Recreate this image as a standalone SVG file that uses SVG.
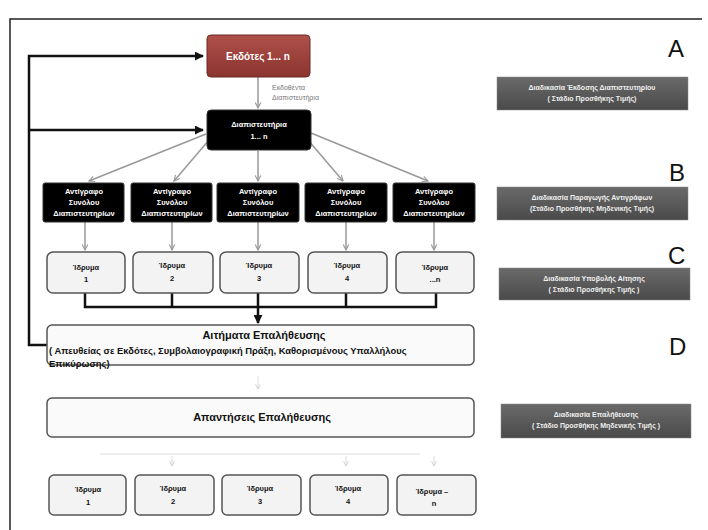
<svg xmlns="http://www.w3.org/2000/svg" width="708" height="530" viewBox="0 0 708 530">
<defs>
<linearGradient id="gRed" x1="0" y1="0" x2="0" y2="1"><stop offset="0" stop-color="#b0504a"/><stop offset="1" stop-color="#8a3430"/></linearGradient>
<linearGradient id="gBan" x1="0" y1="0" x2="0" y2="1"><stop offset="0" stop-color="#6a6a6a"/><stop offset="1" stop-color="#4a4a4a"/></linearGradient>
<marker id="ag" viewBox="0 0 10 10" refX="9" refY="5" markerWidth="7" markerHeight="7" orient="auto" markerUnits="userSpaceOnUse"><path d="M1,1 L9,5 L1,9" fill="none" stroke="#999" stroke-width="1.6"/></marker>
<marker id="ak" viewBox="0 0 10 10" refX="9" refY="5" markerWidth="9" markerHeight="9" orient="auto" markerUnits="userSpaceOnUse"><path d="M0,0 L10,5 L0,10 z" fill="#111"/></marker>
<marker id="af" viewBox="0 0 10 10" refX="9" refY="5" markerWidth="6" markerHeight="6" orient="auto" markerUnits="userSpaceOnUse"><path d="M1,1 L9,5 L1,9" fill="none" stroke="#ccc" stroke-width="1.4"/></marker>
</defs>
<style>
text{font-family:"Liberation Sans","DejaVu Sans",sans-serif;}
.w{fill:#fff;font-size:7.5px;text-anchor:middle;font-weight:bold;}
.wb{fill:#fff;font-size:10px;font-weight:bold;text-anchor:middle;}
.blk{fill:#000;stroke:#333;stroke-width:1;}
.room{fill:#f3f3f3;stroke:#555;stroke-width:1.5;}
.rt{fill:#111;font-size:7.5px;text-anchor:middle;font-weight:bold;}
.ban{fill:url(#gBan);stroke:#888;stroke-width:0.5;}
.bt{fill:#f0f0f0;font-size:7px;text-anchor:middle;font-weight:bold;}
.let{fill:#111;font-size:24px;}
.g{stroke:#999;stroke-width:1.5;fill:none;marker-end:url(#ag);}
.k{stroke:#111;stroke-width:2.5;fill:none;}
.f{stroke:#ddd;stroke-width:1;fill:none;}
</style>
<rect width="708" height="530" fill="#fff"/>
<path d="M10,530 L10,19 L702,19" fill="none" stroke="#222" stroke-width="1.5"/>

<g id="connectors">
<path class="g" d="M258,77 L258,108"/>
<path class="g" d="M206,134 L89,181"/>
<path class="g" d="M209,140 L174,181"/>
<path class="g" d="M258,151 L258,181"/>
<path class="g" d="M308,140 L343,181"/>
<path class="g" d="M311,133 L428,181"/>
<path class="g" d="M85,222 L85,250"/>
<path class="g" d="M172,222 L172,250"/>
<path class="g" d="M258,222 L258,250"/>
<path class="g" d="M346,222 L346,250"/>
<path class="g" d="M434,222 L434,250"/>
<path class="k" d="M85,293 L85,307 L436,307 L436,293 M172,293 L172,307 M346,293 L346,307"/>
<path class="k" d="M258,293 L258,323" marker-end="url(#ak)"/>
<path class="k" d="M47,345 L29,345 L29,56 L203,56" marker-end="url(#ak)"/>
<path class="k" d="M29,130 L203,130" marker-end="url(#ak)"/>
<path class="f" d="M258,376 L258,389" marker-end="url(#af)"/>
<path class="f" d="M100,454 L420,454"/>
<path class="f" d="M172,456 L172,466" marker-end="url(#af)"/>
<path class="f" d="M346,456 L346,466" marker-end="url(#af)"/>
<path class="f" d="M434,456 L434,466" marker-end="url(#af)"/>
<text x="272" y="90" style="fill:#777;font-size:7px">Εκδοθέντα</text>
<text x="272" y="100" style="fill:#777;font-size:7px">Διαπιστευτήρια</text>
</g>

<g id="issuers">
<rect x="207" y="35" width="103" height="42" rx="4" fill="url(#gRed)" stroke="#6a2a26"/>
<text class="wb" x="258" y="60">Εκδότες 1... n</text>
</g>
<g id="credentials">
<rect class="blk" x="207" y="110" width="104" height="40" rx="4"/>
<text class="w" x="259" y="127">Διαπιστευτήρια</text>
<text class="w" x="259" y="139">1... n</text>
</g>

<g id="copy1"><rect class="blk" x="43" y="183" width="81" height="39" rx="2"/><text class="w" x="84" y="194">Αντίγραφο</text><text class="w" x="84" y="205">Συνόλου</text><text class="w" x="84" y="216">Διαπιστευτηρίων</text></g>
<g id="copy2"><rect class="blk" x="131" y="183" width="81" height="39" rx="2"/><text class="w" x="172" y="194">Αντίγραφο</text><text class="w" x="172" y="205">Συνόλου</text><text class="w" x="172" y="216">Διαπιστευτηρίων</text></g>
<g id="copy3"><rect class="blk" x="217" y="183" width="82" height="39" rx="2"/><text class="w" x="258" y="194">Αντίγραφο</text><text class="w" x="258" y="205">Συνόλου</text><text class="w" x="258" y="216">Διαπιστευτηρίων</text></g>
<g id="copy4"><rect class="blk" x="305" y="183" width="82" height="39" rx="2"/><text class="w" x="346" y="194">Αντίγραφο</text><text class="w" x="346" y="205">Συνόλου</text><text class="w" x="346" y="216">Διαπιστευτηρίων</text></g>
<g id="copy5"><rect class="blk" x="393" y="183" width="82" height="39" rx="2"/><text class="w" x="434" y="194">Αντίγραφο</text><text class="w" x="434" y="205">Συνόλου</text><text class="w" x="434" y="216">Διαπιστευτηρίων</text></g>

<g id="inst1"><rect class="room" x="47" y="252" width="78" height="41" rx="6"/><text class="rt" x="86" y="270">Ίδρυμα</text><text class="rt" x="86" y="282">1</text></g>
<g id="inst2"><rect class="room" x="133" y="252" width="80" height="41" rx="6"/><text class="rt" x="172" y="268">Ίδρυμα</text><text class="rt" x="172" y="281">2</text></g>
<g id="inst3"><rect class="room" x="220" y="252" width="79" height="41" rx="6"/><text class="rt" x="259" y="268">Ίδρυμα</text><text class="rt" x="259" y="281">3</text></g>
<g id="inst4"><rect class="room" x="308" y="252" width="79" height="41" rx="6"/><text class="rt" x="347" y="268">Ίδρυμα</text><text class="rt" x="347" y="281">4</text></g>
<g id="inst5"><rect class="room" x="396" y="252" width="78" height="41" rx="6"/><text class="rt" x="435" y="270">Ίδρυμα</text><text class="rt" x="435" y="282">...n</text></g>

<g id="requests">
<rect class="room" x="47" y="325" width="427" height="40" rx="5" style="fill:#fafafa"/>
<text x="264" y="339" style="fill:#111;font-size:11px;font-weight:bold;text-anchor:middle">Αιτήματα Επαλήθευσης</text>
<text x="49" y="354" style="fill:#111;font-size:9.4px;font-weight:bold">( Απευθείας σε Εκδότες, Συμβολαιογραφική Πράξη, Καθορισμένους Υπαλλήλους</text>
<text x="49" y="367" style="fill:#111;font-size:9.4px;font-weight:bold">Επικύρωσης)</text>
</g>

<g id="responses">
<rect class="room" x="47" y="398" width="427" height="39" rx="5" style="fill:#fafafa"/>
<text x="262" y="421" style="fill:#111;font-size:11px;font-weight:bold;text-anchor:middle">Απαντήσεις Επαλήθευσης</text>
</g>

<g id="binst1"><rect class="room" x="49" y="475" width="77" height="40" rx="5"/><text class="rt" x="88" y="492">Ίδρυμα</text><text class="rt" x="88" y="505">1</text></g>
<g id="binst2"><rect class="room" x="135" y="475" width="79" height="40" rx="5"/><text class="rt" x="173" y="491">Ίδρυμα</text><text class="rt" x="173" y="504">2</text></g>
<g id="binst3"><rect class="room" x="222" y="475" width="79" height="40" rx="5"/><text class="rt" x="260" y="491">Ίδρυμα</text><text class="rt" x="260" y="504">3</text></g>
<g id="binst4"><rect class="room" x="310" y="475" width="78" height="40" rx="5"/><text class="rt" x="348" y="491">Ίδρυμα</text><text class="rt" x="348" y="504">4</text></g>
<g id="binst5"><rect class="room" x="397" y="475" width="79" height="40" rx="5"/><text class="rt" x="432" y="494">Ίδρυμα  –</text><text class="rt" x="434" y="506">n</text></g>

<g id="labelA"><text class="let" x="668" y="57">A</text></g>
<g id="labelB"><text class="let" x="669" y="181">B</text></g>
<g id="labelC"><text class="let" x="668" y="264">C</text></g>
<g id="labelD"><text class="let" x="669" y="355">D</text></g>

<g id="stageA"><rect class="ban" x="497" y="77" width="191" height="33"/><text class="bt" x="592" y="90">Διαδικασία Έκδοσης Διαπιστευτηρίου</text><text class="bt" x="592" y="101">( Στάδιο Προσθήκης Τιμής)</text></g>
<g id="stageB"><rect class="ban" x="497" y="187" width="191" height="33"/><text class="bt" x="592" y="200">Διαδικασία Παραγωγής Αντιγράφων</text><text class="bt" x="592" y="211">(Στάδιο Προσθήκης Μηδενικής Τιμής)</text></g>
<g id="stageC"><rect class="ban" x="499" y="268" width="191" height="32"/><text class="bt" x="594" y="281">Διαδικασία Υποβολής Αίτησης</text><text class="bt" x="594" y="292">( Στάδιο Προσθήκης Τιμής )</text></g>
<g id="stageD"><rect class="ban" x="501" y="404" width="190" height="34"/><text class="bt" x="596" y="417">Διαδικασία Επαλήθευσης</text><text class="bt" x="596" y="428">( Στάδιο Προσθήκης Μηδενικής Τιμής )</text></g>
</svg>
